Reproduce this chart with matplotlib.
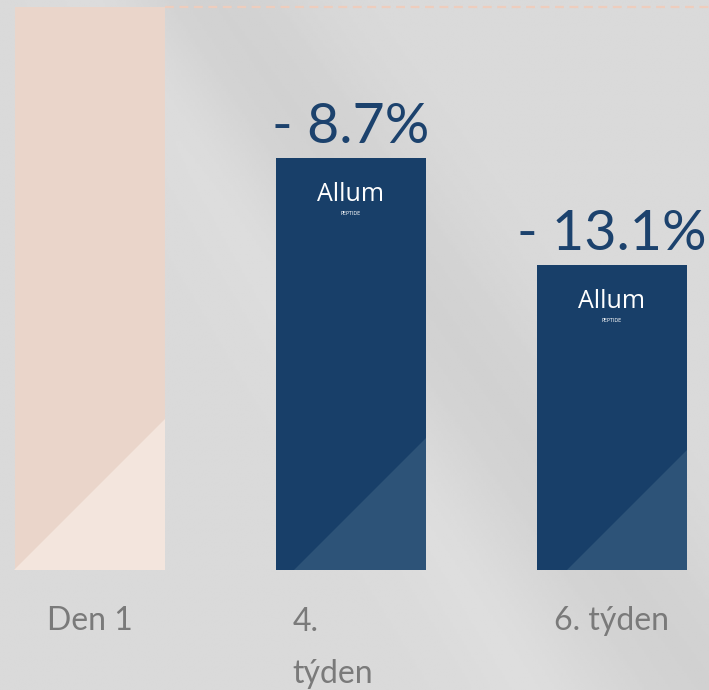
import numpy as np
import matplotlib.pyplot as plt
from matplotlib.patches import Polygon

# chart data
categories = ['Den 1', '4.\ntýden', '6. týden']
values = [100, 73.2, 54.2]          # relative bar heights
changes = ['', '- 8.7%', '- 13.1%']

bar_colors = ['#ead5ca', '#183f69', '#183f69']
shade_colors = ['#f3e5dd', '#2d5378', '#2d5378']
shade_px = [151, 132, 120]          # size of the light corner triangle, pixels
bg = '#d8d8d8'

fig = plt.figure(figsize=(7.09, 6.90), dpi=100, facecolor=bg)
ax = fig.add_axes([0, 0, 1, 1])
ax.set_facecolor(bg)

x = np.arange(len(categories))
width = 0.575
ax.set_xlim(-0.345, 2.372)
ax.set_ylim(-21.3, 101.25)

# soft marble-like shading in the background
gx, gy = np.meshgrid(np.linspace(0, 1, 300), np.linspace(0, 1, 300))
band = np.exp(-((gx - 0.3 - 0.7 * gy) ** 2) / 0.02)
band2 = np.exp(-((gx - 0.15 - 0.6 * gy) ** 2) / 0.006)
shade = 0.855 - 0.035 * band + 0.015 * band2
ax.imshow(shade, cmap='gray', vmin=0, vmax=1, origin='upper',
          extent=[*ax.get_xlim(), *ax.get_ylim()], aspect='auto', zorder=0)

bars = ax.bar(x, values, width=width, color=bar_colors, zorder=2)

# dashed reference line at the day-1 level
ax.plot([x[0] + width / 2, ax.get_xlim()[1]], [values[0], values[0]],
        ls=(0, (4, 2.5)), lw=1.6, color='#eecdbd', zorder=1)

# light triangle in the bottom-right corner of each bar
to_px = ax.transData
to_data = ax.transData.inverted()
for b, c, s in zip(bars, shade_colors, shade_px):
    rx, by = to_px.transform((b.get_x() + b.get_width(), 0))
    pts = to_data.transform([(rx - s, by), (rx, by), (rx, by + s)])
    ax.add_patch(Polygon(pts, closed=True, color=c, lw=0, zorder=3))

# percentage labels and logo text
for i, (b, lab) in enumerate(zip(bars, changes)):
    cx = b.get_x() + b.get_width() / 2
    top = b.get_height()
    if lab:
        ax.annotate(lab, (cx, top), xytext=(0, 11), textcoords='offset points',
                    ha='center', va='baseline', fontsize=40, family='Lato',
                    color='#1c426d', zorder=4)
        ax.annotate('Allum', (cx, top), xytext=(0, -26), textcoords='offset points',
                    ha='center', va='center', fontsize=18, family='Open Sans',
                    color='white', zorder=4)
        ax.annotate('PEPTIDE', (cx, top), xytext=(0, -40), textcoords='offset points',
                    ha='center', va='center', fontsize=3.5, family='DejaVu Sans',
                    color='white', zorder=4)

# category labels under the bars
for i, cat in enumerate(categories):
    if '\n' in cat:
        ax.annotate(cat, (x[i], 0), xytext=(-42, -81), textcoords='offset points',
                    ha='left', va='baseline', fontsize=23, family='Lato',
                    color='#7a7a7a', linespacing=1.9)
    else:
        ax.annotate(cat, (x[i], 0), xytext=(0, -43), textcoords='offset points',
                    ha='center', va='baseline', fontsize=23, family='Lato',
                    color='#7a7a7a')

ax.axis('off')
fig.savefig('out.png', dpi=100, facecolor=bg)
